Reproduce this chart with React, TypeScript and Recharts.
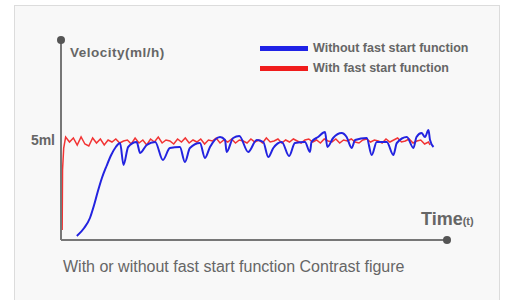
import React from 'react';
import { LineChart, Line, XAxis, YAxis, ReferenceDot } from 'recharts';

// time (arbitrary units 0-100) and velocity (5 = the 5ml level)
const redTime = [
  0.3, 0.4, 0.7, 1.2, 2.2, 3.2, 4.2, 5.2, 6.2, 7.2,
  8.2, 9.2, 10.2, 11.2, 12.2, 13.2, 14.2, 15.2, 16.2, 17.2,
  18.2, 19.2, 20.2, 21.2, 22.2, 23.2, 24.2, 25.2, 26.2, 27.2,
  28.2, 29.2, 30.2, 31.2, 32.2, 33.2, 34.2, 35.2, 36.2, 37.2,
  38.2, 39.2, 40.2, 41.2, 42.2, 43.2, 44.2, 45.2, 46.2, 47.2,
  48.2, 49.2, 50.2, 51.2, 52.2, 53.2, 54.2, 55.2, 56.2, 57.2,
  58.2, 59.2, 60.2, 61.2, 62.2, 63.2, 64.2, 65.2, 66.2, 67.2,
  68.2, 69.2, 70.2, 71.2, 72.2, 73.2, 74.2, 75.2, 76.2, 77.2,
  78.2, 79.2, 80.2, 81.2, 82.2, 83.2, 84.2, 85.2, 86.2, 87.2,
  88.2, 89.2, 90.2, 91.2, 92.2, 93.2, 94.2, 95.2, 95.6,
];
const redVelocity = [
  0.5, 3.5, 4.6, 5.15, 4.9, 5.1, 4.75, 5.15, 4.8, 4.7,
  5.1, 4.85, 5.05, 4.75, 5.0, 4.9, 5.05, 4.85, 4.95, 5.0,
  4.8, 5.1, 4.85, 5.0, 4.75, 5.05, 4.9, 5.15, 4.85, 5.0,
  4.95, 4.8, 5.05, 4.9, 5.1, 4.85, 5.0, 4.9, 5.05, 4.8,
  5.0, 4.95, 5.1, 4.85, 5.0, 4.9, 5.05, 4.85, 5.0, 4.95,
  4.85, 5.05, 4.9, 5.0, 4.85, 5.1, 4.9, 4.95, 5.05, 4.85,
  5.0, 4.9, 5.05, 4.95, 4.85, 5.0, 5.05, 4.9, 5.0, 4.85,
  5.05, 4.95, 4.9, 5.05, 4.85, 5.0, 4.95, 5.05, 4.9, 4.85,
  5.0, 5.05, 4.9, 5.0, 4.95, 4.85, 5.05, 4.9, 5.0, 5.1,
  4.9, 4.95, 5.05, 4.85, 4.95, 5.0, 4.8, 4.9, 4.75,
];

const blueTime = [
  4.1, 6.0, 7.5, 8.5, 9.5, 10.6, 11.8, 13.0, 14.2, 15.3,
  16.2, 17.4, 19.6, 20.5, 22.2, 24.4, 26.4, 28.2, 30.8, 32.1,
  33.4, 36.0, 37.3, 38.6, 41.2, 42.5, 42.9, 44.6, 46.2, 48.5,
  50.7, 52.4, 53.7, 55.0, 57.2, 59.1, 60.6, 63.2, 64.5, 64.9,
  66.6, 68.4, 69.0, 70.5, 72.7, 74.0, 75.3, 76.2, 79.2, 80.5,
  81.8, 84.4, 86.1, 87.0, 89.6, 91.3, 92.1, 93.4, 94.3, 95.2,
  95.6, 96.5,
];
const blueVelocity = [
  0.2, 0.6, 1.1, 1.7, 2.4, 3.1, 3.7, 4.25, 4.65, 4.85,
  3.75, 4.65, 4.9, 4.35, 4.75, 4.9, 4.0, 4.6, 4.65, 3.9,
  4.6, 4.85, 4.1, 4.65, 5.15, 5.0, 4.4, 5.1, 5.2, 4.4,
  5.0, 4.9, 4.15, 4.6, 4.9, 4.2, 4.85, 4.9, 4.4, 4.9,
  5.15, 5.4, 4.65, 5.1, 5.35, 5.15, 4.6, 5.0, 5.1, 4.25,
  4.9, 4.9, 4.25, 4.85, 5.15, 4.6, 5.15, 5.35, 5.15, 5.5,
  5.0, 4.65,
];

const yTicks = [5];
const legendItems = [
  { label: 'Without fast start function', color: '#1f22e6' },
  { label: 'With fast start function', color: '#f01c1c' },
];

const redData = redTime.map((t, i) => ({ t, v: redVelocity[i] }));
const blueData = blueTime.map((t, i) => ({ t, v: blueVelocity[i] }));

const font = '"Liberation Sans", Arial, sans-serif';
const textGray = '#666';

export default function App() {
  return (
    <div style={{ position: 'absolute', left: 0, top: 0, width: 505, height: 300, background: '#fff', overflow: 'hidden', fontFamily: font }}>
      <div style={{ position: 'absolute', left: 14, top: 5, width: 484, height: 300, border: '1px solid #dcdcdc', borderBottom: 'none', background: '#f8f8f8' }} />
      <div style={{ position: 'absolute', left: 0, top: 0 }}>
        <LineChart width={505} height={300} data={redData} margin={{ top: 40, right: 58, left: 1, bottom: 40 }}>
          <XAxis
            type="number"
            dataKey="t"
            domain={[0, 100]}
            allowDataOverflow
            tick={false}
            tickLine={false}
            height={20}
            axisLine={{ stroke: '#777', strokeWidth: 2 }}
          />
          <YAxis
            type="number"
            domain={[0, 10]}
            ticks={yTicks}
            width={60}
            tickLine={false}
            tickSize={4}
            tickFormatter={(v) => `${v}ml`}
            tick={{ fill: textGray, fontSize: 14, fontWeight: 'bold', fontFamily: font }}
            axisLine={{ stroke: '#777', strokeWidth: 2 }}
          />
          <Line data={redData} dataKey="v" type="linear" stroke="#f23434" strokeWidth={1.5} dot={false} isAnimationActive={false} />
          <Line data={blueData} dataKey="v" type="monotone" stroke="#2323e0" strokeWidth={2} dot={false} isAnimationActive={false} />
          <ReferenceDot x={0} y={10} r={4} fill="#555" stroke="none" ifOverflow="visible" />
          <ReferenceDot x={100} y={0} r={4} fill="#555" stroke="none" ifOverflow="visible" />
        </LineChart>
      </div>
      <div style={{ position: 'absolute', left: 70, top: 45, fontSize: 13.5, fontWeight: 'bold', color: textGray, letterSpacing: 0.5 }}>
        Velocity(ml/h)
      </div>
      {legendItems.map((item, i) => (
        <div key={item.label} style={{ position: 'absolute', left: 260, top: 40 + i * 20, display: 'flex', alignItems: 'center', height: 16 }}>
          <div style={{ width: 48, height: 5, background: item.color, marginRight: 5 }} />
          <span style={{ fontSize: 12.5, fontWeight: 'bold', color: textGray }}>{item.label}</span>
        </div>
      ))}
      <div style={{ position: 'absolute', left: 421, top: 209, color: textGray, fontWeight: 600, whiteSpace: 'nowrap' }}>
        <span style={{ fontSize: 18 }}>Time</span>
        <span style={{ fontSize: 11 }}>(t)</span>
      </div>
      <div style={{ position: 'absolute', left: 63, top: 258, fontSize: 16, color: textGray, whiteSpace: 'nowrap' }}>
        With or without fast start function Contrast figure
      </div>
    </div>
  );
}
